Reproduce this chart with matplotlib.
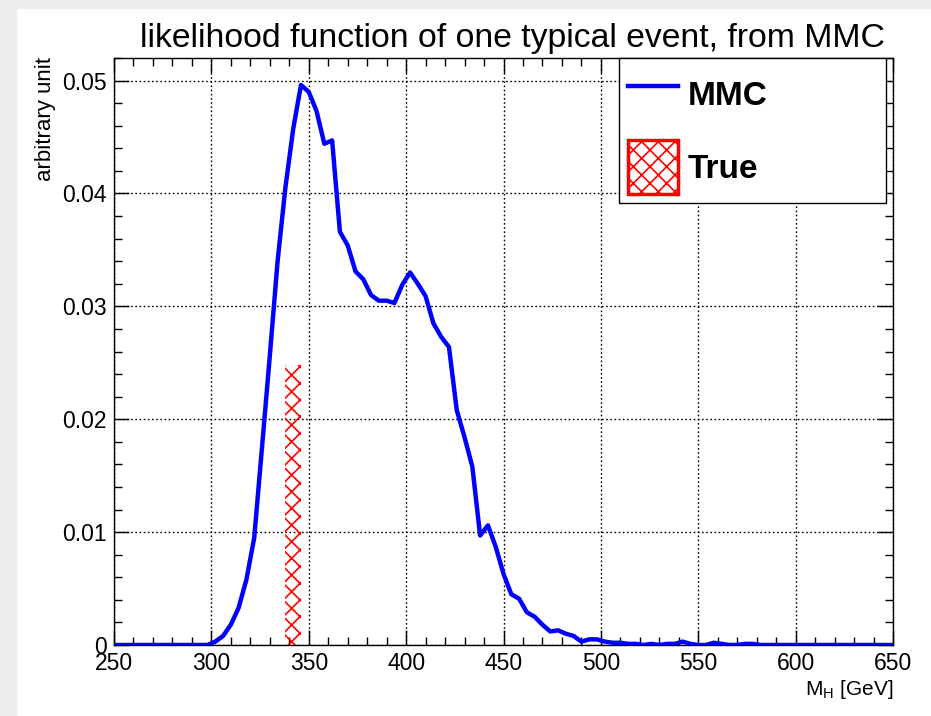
import matplotlib.pyplot as plt
import numpy as np
from matplotlib.lines import Line2D
from matplotlib.patches import Rectangle
from matplotlib.ticker import FuncFormatter, MultipleLocator

plt.rcParams["font.family"] = ["Liberation Sans", "DejaVu Sans"]
plt.rcParams["mathtext.fontset"] = "custom"
plt.rcParams["mathtext.rm"] = "Liberation Sans"
plt.rcParams["hatch.linewidth"] = 1.2

# MMC likelihood, 4 GeV bin centres from 250 to 650
mass = np.arange(250, 651, 4)
likelihood = [
    0, 0, 0, 0, 0, 0, 0, 0, 0, 0, 0, 0,
    0.0, 0.0003, 0.0008, 0.0018, 0.0033, 0.0058, 0.0095, 0.0175,
    0.0256, 0.0340, 0.0405, 0.0457, 0.0496, 0.0490, 0.0473, 0.0444,
    0.0447, 0.0366, 0.0354, 0.0331, 0.0324, 0.0310, 0.0305, 0.0305,
    0.0303, 0.0319, 0.0330, 0.0320, 0.0309, 0.0285, 0.0273, 0.0264,
    0.0208, 0.0184, 0.0158, 0.0097, 0.0106, 0.0087, 0.0063, 0.0045,
    0.0041, 0.0029, 0.0025, 0.0018, 0.0012, 0.0013, 0.0010, 0.0008,
    0.0003, 0.0005, 0.0005, 0.0003, 0.0002, 0.0002, 0.0001, 0.0001,
    0.0, 0.0001, 0.0, 0.0001, 0.0001, 0.0003, 0.0001, 0.0,
    0.0, 0.0002, 0.0001, 0.0, 0.0, 0.0001, 0.0001,
    0, 0, 0, 0, 0, 0, 0, 0, 0, 0, 0, 0, 0, 0, 0, 0, 0, 0,
]

# true mass bin
true_lo, true_hi = 338, 346
true_height = 0.0248

W, H = 931, 716
fig = plt.figure(figsize=(W / 100, H / 100), dpi=100)

# grey slide margin on the left and top
fig.patches.append(Rectangle((0, 0), 16 / W, 1, transform=fig.transFigure,
                             color="#eeeeee", zorder=-1))
fig.patches.append(Rectangle((0, 1 - 8 / H), 1, 8 / H, transform=fig.transFigure,
                             color="#eeeeee", zorder=-1))

ax = fig.add_axes([114 / W, 1 - 645 / H, (893 - 114) / W, (645 - 58) / H])

ax.bar(true_lo, true_height, width=true_hi - true_lo, align="edge",
       facecolor="none", edgecolor="red", hatch="xx", linewidth=0, zorder=2)
ax.plot(mass, likelihood, color="#0000ff", lw=3.2, zorder=3)

ax.set_xlim(250, 650)
ax.set_ylim(0, 0.052)

ax.xaxis.set_major_locator(MultipleLocator(50))
ax.xaxis.set_minor_locator(MultipleLocator(10))
ax.yaxis.set_major_locator(MultipleLocator(0.01))
ax.yaxis.set_minor_locator(MultipleLocator(0.002))
ax.yaxis.set_major_formatter(FuncFormatter(lambda v, _: "0" if v == 0 else f"{v:.2f}"))

ax.tick_params(which="both", direction="in", top=True, right=True,
               width=1, labelsize=16.5)
ax.tick_params(axis="x", pad=5)
ax.tick_params(axis="y", pad=5)
ax.tick_params(which="major", length=10.5)
ax.tick_params(which="minor", length=5.5)

ax.grid(True, which="major", color="black", lw=1, linestyle=(0, (1.2, 1.8)))
ax.set_axisbelow(True)
for s in ax.spines.values():
    s.set_linewidth(1)

handles = [
    Line2D([], [], color="#0000ff", lw=3.2),
    Rectangle((0, 0), 1, 1, facecolor="none", edgecolor="red", hatch="xx", lw=2.5),
]
leg = ax.legend(handles, ["MMC", "True"], loc="upper left",
                bbox_to_anchor=(0.648, 1.0, 0.343, 0), mode="expand",
                prop={"size": 24, "weight": "bold"}, fancybox=False,
                framealpha=1, edgecolor="black", borderpad=0.27,
                labelspacing=0.57, handlelength=1.5, handleheight=2.12,
                handletextpad=0.3, borderaxespad=0)
leg.get_frame().set_linewidth(1)

fig.text(512 / W, 1 - 47 / H, "likelihood function of one typical event, from MMC",
         fontsize=24.3, ha="center", va="baseline")
fig.text(893 / W, 1 - 695 / H, r"M$_\mathrm{H}$ [GeV]", fontsize=15,
         ha="right", va="baseline")
fig.text(45 / W, 1 - 57 / H, "arbitrary unit", fontsize=16, rotation=90,
         ha="center", va="top")

fig.savefig("out.png", dpi=100)
